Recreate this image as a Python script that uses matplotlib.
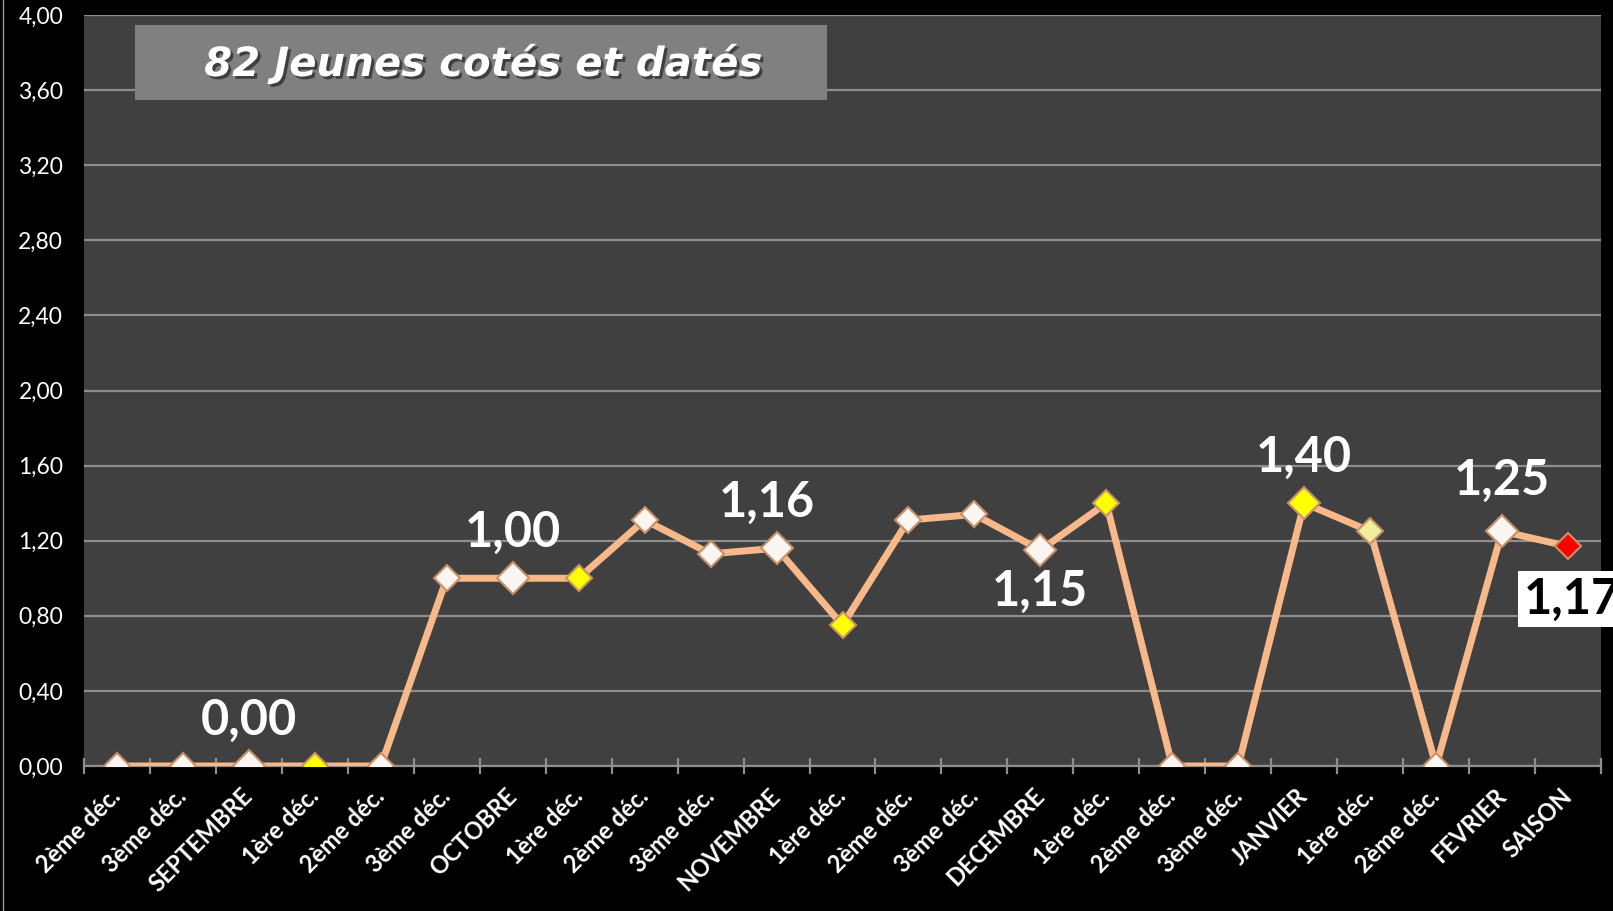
import matplotlib.pyplot as plt
import matplotlib.patheffects as pe
from matplotlib.patches import Rectangle
from matplotlib.ticker import FixedLocator

# categories (decades / months)
labels = ['2ème déc.', '3ème déc.', 'SEPTEMBRE', '1ère déc.', '2ème déc.', '3ème déc.',
          'OCTOBRE', '1ère déc.', '2ème déc.', '3ème déc.', 'NOVEMBRE', '1ère déc.',
          '2ème déc.', '3ème déc.', 'DECEMBRE', '1ère déc.', '2ème déc.', '3ème déc.',
          'JANVIER', '1ère déc.', '2ème déc.', 'FEVRIER', 'SAISON']
values = [0, 0, 0, 0, 0, 1.00, 1.00, 1.00, 1.31, 1.13, 1.16, 0.75,
          1.31, 1.34, 1.15, 1.40, 0, 0, 1.40, 1.25, 0, 1.25, 1.17]
month_idx = [2, 6, 10, 14, 18, 21]
yellow_idx = [3, 7, 11, 15, 18]
pale_idx = [19]
red_idx = [22]
# labelled points: index -> position ('above' / 'below')
shown = {2: 'above', 6: 'above', 10: 'above', 14: 'below', 18: 'above', 21: 'above'}
yticks = [0, 0.4, 0.8, 1.2, 1.6, 2.0, 2.4, 2.8, 3.2, 3.6, 4.0]

W, H = 1613, 911
fig = plt.figure(figsize=(W / 100, H / 100), dpi=100, facecolor='black')
ax = fig.add_axes([84 / W, 1 - 766 / H, (1601 - 84) / W, (766 - 15) / H])
ax.set_facecolor('#404040')

x = list(range(len(values)))
ax.plot(x, values, color='#F7B98A', lw=5, zorder=3, solid_joinstyle='round')

for i, v in enumerate(values):
    face = '#FBF6F1'
    if i in yellow_idx:
        face = '#FFFF00'
    if i in pale_idx:
        face = '#EFEF9A'
    if i in red_idx:
        face = '#FF0000'
    ms = 16 if i in month_idx else 13.5
    ax.plot(i, v, marker='D', ms=ms, mfc=face, mec='#C99068', mew=1.5,
            ls='none', zorder=4)

def fmt(v):
    return f'{v:.2f}'.replace('.', ',')

for i, pos in shown.items():
    dx = -7 if i == 10 else 0
    dy = 33 if pos == 'above' else -30
    if i == 21:
        dy = 37
    ax.annotate(fmt(values[i]), (i, values[i]), xytext=(dx, dy), textcoords='offset points',
                ha='center', va='center', fontsize=35, fontweight='bold', family='Lato',
                color='white', zorder=5)

# last point: black text on white box (cut at the right edge, as in the original)
ax.annotate(fmt(values[22]), (22, values[22]), xytext=(3, -38), textcoords='offset points',
            ha='center', va='center', fontsize=35, fontweight='bold', family='Lato',
            color='black', zorder=5, annotation_clip=False,
            bbox=dict(boxstyle='square,pad=0.12', fc='white', ec='none'))

ax.set_xlim(-0.5, len(values) - 0.5)
ax.set_ylim(0, 4.0)
ax.set_yticks(yticks)
ax.set_yticklabels([fmt(t) for t in yticks], color='white', fontsize=16.5, family='Lato')
ax.yaxis.grid(True, color='#8E8E8E', lw=1.6)
ax.set_axisbelow(True)
ax.tick_params(axis='y', length=0, pad=15)

ax.set_xticks(x)
ax.set_xticklabels(labels, rotation=45, ha='right', va='center', rotation_mode='anchor',
                   color='white', fontsize=17, fontweight='bold', family='Lato')
ax.tick_params(axis='x', which='major', length=0, pad=19)
ax.xaxis.set_minor_locator(FixedLocator([i - 0.5 for i in range(len(values) + 1)]))
ax.tick_params(axis='x', which='minor', direction='inout', length=11, width=1.6, color='#8E8E8E')

for s in ['top', 'right', 'left']:
    ax.spines[s].set_visible(False)
ax.spines['bottom'].set_color('#8E8E8E')
ax.spines['bottom'].set_linewidth(1.6)

# title box
fig.add_artist(Rectangle((135 / W, 1 - 100 / H), (827 - 135) / W, 75 / H,
                         transform=fig.transFigure, fc='#808080', ec='none'))
fig.text(483 / W, 1 - 64 / H, '82 Jeunes cotés et datés', ha='center', va='center',
         fontsize=29, style='italic', fontweight='bold', family='DejaVu Sans', color='white',
         path_effects=[pe.withSimplePatchShadow(offset=(2, -2), shadow_rgbFace='black', alpha=0.5)])

# thin line at left edge
fig.add_artist(plt.Line2D([3 / W, 3 / W], [0, 1], transform=fig.transFigure, color='#9A9A9A', lw=1))

fig.savefig('out.png', dpi=100, facecolor='black')
